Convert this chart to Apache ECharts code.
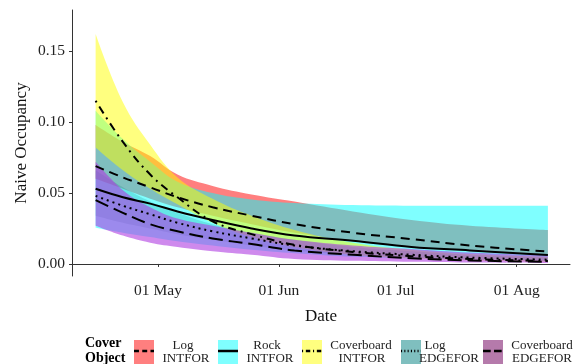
<!DOCTYPE html>
<html>
<head>
<meta charset="utf-8">
<script src="https://cdn.jsdelivr.net/npm/echarts@6/dist/echarts.min.js"></script>
<style>html,body{margin:0;padding:0;background:#fff;}#c{width:576px;height:364px;}</style>
</head>
<body>
<div id="c"></div>
<script>
// ---- data ----
var dates = ['2021-04-15','2021-04-22','2021-04-29','2021-05-06','2021-05-15','2021-05-25','2021-06-05','2021-06-20','2021-07-05','2021-07-20','2021-08-09'];
var tickDates = ['2021-05-01','2021-06-01','2021-07-01','2021-08-01'];
var yTicks = [0, 0.05, 0.10, 0.15];

var logIntFit   = [0.069, 0.061, 0.054, 0.047, 0.040, 0.034, 0.028, 0.022, 0.0175, 0.013, 0.0087];
var logIntUp    = [0.098, 0.086, 0.076, 0.063, 0.055, 0.049, 0.044, 0.037, 0.031, 0.027, 0.024];
var logIntLo    = [0.060, 0.053, 0.046, 0.040, 0.034, 0.028, 0.022, 0.016, 0.012, 0.009, 0.006];

var rockIntFit  = [0.053, 0.047, 0.0425, 0.037, 0.031, 0.025, 0.020, 0.0163, 0.012, 0.0095, 0.0063];
var rockIntUp   = [0.108, 0.088, 0.072, 0.058, 0.050, 0.0455, 0.043, 0.0415, 0.041, 0.041, 0.041];
var rockIntLo   = [0.0255, 0.022, 0.019, 0.016, 0.013, 0.010, 0.0075, 0.005, 0.0038, 0.003, 0.0025];

var cbIntFit    = [0.115, 0.086, 0.063, 0.047, 0.030, 0.021, 0.0135, 0.0085, 0.0055, 0.0035, 0.002];
var cbIntUp     = [0.162, 0.114, 0.084, 0.061, 0.046, 0.034, 0.024, 0.015, 0.010, 0.007, 0.005];
var cbIntLo     = [0.082, 0.066, 0.053, 0.042, 0.029, 0.019, 0.012, 0.0065, 0.004, 0.0025, 0.0015];

var logEdgeFit  = [0.048, 0.041, 0.035, 0.029, 0.023, 0.018, 0.013, 0.009, 0.0065, 0.0045, 0.003];
var logEdgeUp   = [0.066, 0.054, 0.044, 0.036, 0.028, 0.022, 0.017, 0.012, 0.009, 0.0065, 0.0045];
var logEdgeLo   = [0.034, 0.029, 0.025, 0.021, 0.017, 0.013, 0.0095, 0.0065, 0.0045, 0.003, 0.002];

var cbEdgeFit   = [0.045, 0.036, 0.028, 0.023, 0.018, 0.014, 0.0095, 0.0065, 0.004, 0.0025, 0.0014];
var cbEdgeUp    = [0.072, 0.052, 0.040, 0.032, 0.027, 0.022, 0.017, 0.013, 0.0105, 0.008, 0.006];
var cbEdgeLo    = [0.027, 0.020, 0.015, 0.012, 0.009, 0.0065, 0.0035, 0.0022, 0.0015, 0.001, 0.0007];

var groups = [
  {name: 'Log INTFOR', l1: 'Log', l2: 'INTFOR', fit: logIntFit, up: logIntUp, lo: logIntLo, fill: 'rgba(255,0,0,0.5)', key: '#FF7F7F', dash: [9, 6]},
  {name: 'Rock INTFOR', l1: 'Rock', l2: 'INTFOR', fit: rockIntFit, up: rockIntUp, lo: rockIntLo, fill: 'rgba(0,255,255,0.5)', key: '#7FFFFF', dash: 'solid'},
  {name: 'Coverboard INTFOR', l1: 'Coverboard', l2: 'INTFOR', fit: cbIntFit, up: cbIntUp, lo: cbIntLo, fill: 'rgba(255,255,0,0.5)', key: '#FFFF7F', dash: [2, 5, 8, 5]},
  {name: 'Log EDGEFOR', l1: 'Log', l2: 'EDGEFOR', fit: logEdgeFit, up: logEdgeUp, lo: logEdgeLo, fill: 'rgba(0,128,128,0.2)', key: '#7FBFBF', dash: [2, 4]},
  {name: 'Coverboard EDGEFOR', l1: 'Coverboard', l2: 'EDGEFOR', fit: cbEdgeFit, up: cbEdgeUp, lo: cbEdgeLo, fill: 'rgba(175,60,225,0.6)', key: '#B57AAB', dash: [14, 6]}
];

function ts(s) { var p = s.split('-'); return Date.UTC(+p[0], +p[1] - 1, +p[2]); }
var months = ['Jan','Feb','Mar','Apr','May','Jun','Jul','Aug','Sep','Oct','Nov','Dec'];
var DAY = 86400000;
var xMin = ts('2021-05-01') - 22.06 * DAY;
var xMax = ts('2021-05-01') + 105.67 * DAY;
var tickTs = tickDates.map(ts);
var SMOOTH = 0.4;

// same bezier smoothing as the ECharts line series, applied to pixel points
function smoothSeg(pts, first) {
  var d = (first ? 'M' : 'L') + pts[0][0] + ' ' + pts[0][1];
  var cpx0 = pts[0][0], cpy0 = pts[0][1];
  var n = pts.length;
  for (var i = 1; i < n; i++) {
    var x = pts[i][0], y = pts[i][1], px = pts[i - 1][0], py = pts[i - 1][1];
    var cpx1 = x, cpy1 = y, ncx = x, ncy = y;
    if (i < n - 1) {
      var nx = pts[i + 1][0], ny = pts[i + 1][1];
      var vx = nx - px, vy = ny - py;
      var l0 = Math.sqrt((x - px) * (x - px) + (y - py) * (y - py));
      var l1 = Math.sqrt((nx - x) * (nx - x) + (ny - y) * (ny - y));
      var r = l1 / (l0 + l1);
      cpx1 = x - vx * SMOOTH * (1 - r); cpy1 = y - vy * SMOOTH * (1 - r);
      ncx = x + vx * SMOOTH * r; ncy = y + vy * SMOOTH * r;
    }
    d += 'C' + cpx0 + ' ' + cpy0 + ' ' + cpx1 + ' ' + cpy1 + ' ' + x + ' ' + y;
    cpx0 = ncx; cpy0 = ncy;
  }
  return d;
}

function bandRender(fill) {
  return function (params, api) {
    if (params.dataIndexInside !== 0) return null;
    var n = params.dataInsideLength;
    var up = [], lo = [];
    for (var k = 0; k < n; k++) {
      up.push(api.coord([api.value(0, k), api.value(2, k)]));
      lo.push(api.coord([api.value(0, k), api.value(1, k)]));
    }
    var d = smoothSeg(up, true) + smoothSeg(lo.slice().reverse(), false) + 'Z';
    return {type: 'path', shape: {pathData: d}, style: {fill: fill, stroke: null}};
  };
}

var series = [];
groups.forEach(function (g) {
  series.push({
    type: 'custom', silent: true, z: 1, renderItem: bandRender(g.fill),
    encode: {x: 0, y: [1, 2]},
    data: dates.map(function (d, k) { return [ts(d), g.lo[k], g.up[k]]; })
  });
});
groups.forEach(function (g) {
  series.push({
    name: g.name, type: 'line', smooth: SMOOTH, symbol: 'none', z: 5,
    lineStyle: {color: '#000', width: 2, type: g.dash},
    data: dates.map(function (d, k) { return [ts(d), g.fit[k]]; })
  });
});

// legend drawn as graphic
var keyX = [134, 218, 302, 401, 483];
var lab1X = [183, 267, 361, 435, 542];
var lab2X = [186, 270, 362, 449, 542];
var graphics = [
  {type: 'text', left: 85, top: 336, style: {text: 'Cover', font: 'bold 14px "Liberation Serif"', fill: '#000'}},
  {type: 'text', left: 85, top: 351, style: {text: 'Object', font: 'bold 14px "Liberation Serif"', fill: '#000'}}
];
groups.forEach(function (g, i) {
  graphics.push({type: 'rect', shape: {x: keyX[i], y: 340, width: 20, height: 24}, style: {fill: g.key}});
  graphics.push({type: 'line', shape: {x1: keyX[i], y1: 351, x2: keyX[i] + 20, y2: 351},
    style: {stroke: '#000', lineWidth: 2.5, lineDash: g.dash === 'solid' ? null : g.dash.map(function (v) { return v * 0.55; })}});
  graphics.push({type: 'text', x: lab1X[i], y: 346, style: {text: g.l1, font: '13px "Liberation Serif"', fill: '#222', align: 'center', verticalAlign: 'middle'}});
  graphics.push({type: 'text', x: lab2X[i], y: 359, style: {text: g.l2, font: '13px "Liberation Serif"', fill: '#222', align: 'center', verticalAlign: 'middle'}});
});

var chart = echarts.init(document.getElementById('c'), null, {renderer: 'canvas'});
chart.setOption({
  animation: false,
  backgroundColor: '#fff',
  grid: {left: 72, right: 6, top: 10, bottom: 88, containLabel: false},
  xAxis: {
    type: 'value', min: xMin, max: xMax,
    name: 'Date', nameLocation: 'middle', nameGap: 32, nameMoveOverlap: false,
    nameTextStyle: {fontFamily: 'Liberation Serif', fontSize: 17, color: '#111'},
    axisLine: {lineStyle: {color: '#333', width: 1}},
    axisTick: {show: true, length: 3, lineStyle: {color: '#333'}, customValues: tickTs},
    axisLabel: {customValues: tickTs, margin: 7, fontFamily: 'Liberation Serif', fontSize: 15.5, color: '#222',
      formatter: function (v) { var d = new Date(v); return ('0' + d.getUTCDate()).slice(-2) + ' ' + months[d.getUTCMonth()]; }},
    splitLine: {show: false}
  },
  yAxis: {
    type: 'value', min: -0.0085, max: 0.179,
    name: 'Naive Occupancy', nameLocation: 'middle', nameGap: 42, nameRotate: 90, nameMoveOverlap: false,
    nameTextStyle: {fontFamily: 'Liberation Serif', fontSize: 17, color: '#111'},
    axisLine: {show: true, lineStyle: {color: '#333', width: 1}},
    axisTick: {show: true, length: 3, lineStyle: {color: '#333'}, customValues: yTicks},
    axisLabel: {customValues: yTicks, margin: 7, fontFamily: 'Liberation Serif', fontSize: 15.5, color: '#222',
      formatter: function (v) { return v.toFixed(2); }},
    splitLine: {show: false}
  },
  series: series,
  graphic: graphics
});
</script>
</body>
</html>
